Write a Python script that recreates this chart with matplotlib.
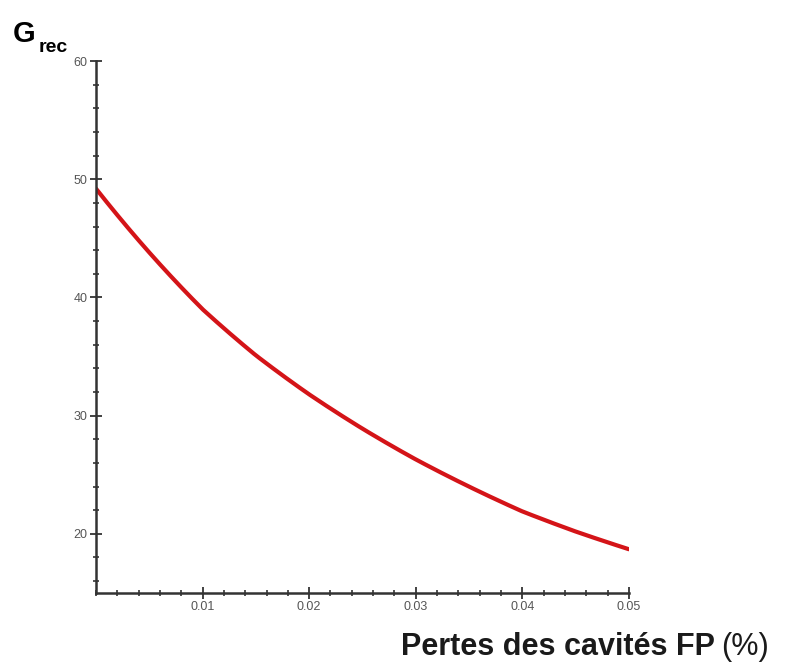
import numpy as np
import matplotlib.pyplot as plt
from matplotlib.ticker import MultipleLocator

# values
losses = [0.0, 0.005, 0.01, 0.015, 0.02, 0.025, 0.03, 0.035, 0.04, 0.045, 0.05]
gain = [49.2, 43.8, 39.0, 35.1, 31.8, 28.9, 26.3, 24.0, 21.9, 20.2, 18.7]

xticks = [0.01, 0.02, 0.03, 0.04, 0.05]
yticks = [20, 30, 40, 50, 60]

plt.rcParams["font.family"] = ["Liberation Sans", "DejaVu Sans"]

fig = plt.figure(figsize=(7.94, 6.64), dpi=100)
ax = fig.add_axes([0.121, 0.107, 0.671, 0.801])

# smooth the read points a little for drawing
xs = np.linspace(losses[0], losses[-1], 200)
ys = np.interp(xs, losses, np.log(gain))
ax.plot(xs, np.exp(ys), color="#d41418", lw=3, solid_capstyle="round")

ax.set_xlim(0, 0.05)
ax.set_ylim(15, 60)
ax.set_xticks(xticks)
ax.set_xticklabels([str(t) for t in xticks])
ax.set_yticks(yticks)
ax.xaxis.set_minor_locator(MultipleLocator(0.002))
ax.yaxis.set_minor_locator(MultipleLocator(2))

for s in ["top", "right"]:
    ax.spines[s].set_visible(False)
for s in ["left", "bottom"]:
    ax.spines[s].set_linewidth(1.8)
    ax.spines[s].set_color("#333333")

ax.tick_params(which="major", direction="inout", length=8, width=1.3,
               labelsize=9, labelcolor="#555555", color="#333333", pad=2)
ax.tick_params(which="minor", direction="inout", length=5, width=1.2, color="#333333")

fig.text(0.016, 0.937, "G", fontsize=21, fontweight="bold", ha="left", va="baseline")
fig.text(0.049, 0.922, "rec", fontsize=14, fontweight="bold", ha="left", va="baseline")
fig.text(0.900, 0.014, "Pertes des cavités FP", fontsize=22, fontweight="bold",
         ha="right", va="baseline", color="#1a1a1a")
fig.text(0.908, 0.014, "(%)", fontsize=22, ha="left", va="baseline", color="#1a1a1a")

fig.savefig("out.png", dpi=100)
